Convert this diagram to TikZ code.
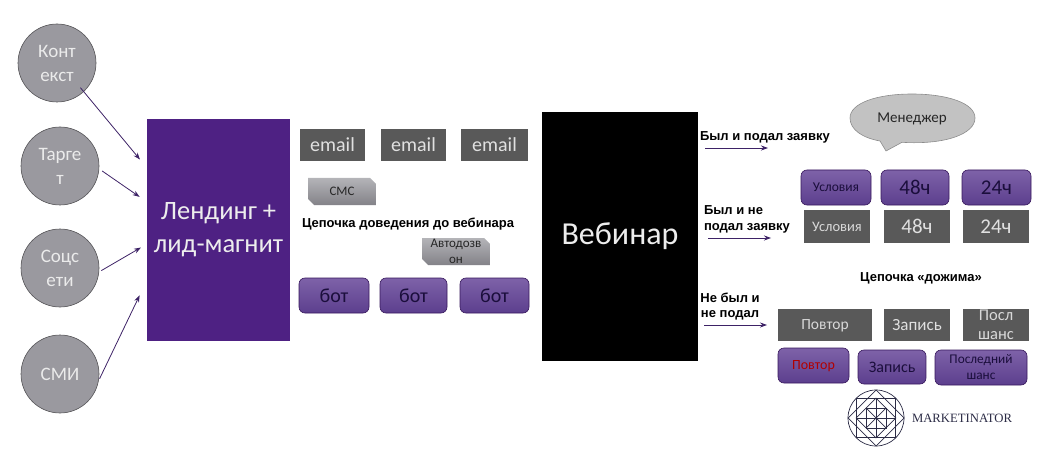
\documentclass[tikz,border=0pt]{standalone}
\usepackage{fontspec}
\setmainfont{Carlito}
\newfontfamily\labelfont{Liberation Sans}
\newfontfamily\logofont{Liberation Serif}
\usetikzlibrary{arrows.meta,calc}
\definecolor{deepviolet}{HTML}{4E2183}
\definecolor{boxgray}{HTML}{595959}
\definecolor{circlegray}{HTML}{9A999F}
\definecolor{arrowviolet}{HTML}{3D2266}
\definecolor{logoink}{HTML}{2B2B45}
\newcommand{\bx}[6]{\node[#1,minimum width=#4-#3,minimum height=#6-#5] (#2) at ({(#3+#4)/2},{(#5+#6)/2})}
\newcommand{\snip}[6]{%
  \shade[top color=snipA,bottom color=snipB] (#2,#4) -- (#3-6,#4) -- (#3,#4+6) -- (#3,#5) -- (#2+6,#5) -- (#2,#5-6) -- cycle;
  \node[snipnode] (#1) at ({(#2+#3)/2},{(#4+#5)/2}) {#6};}
\definecolor{snipA}{HTML}{B4B4B8}
\definecolor{snipB}{HTML}{838288}
\tikzset{
  x=1pt,y=-1pt,
  every node/.style={inner sep=0pt,outer sep=0pt,align=center},
  source/.style={circle,draw=black!45!circlegray,line width=.6pt,fill=circlegray,minimum size=78pt,text=white!92!black,font=\fontsize{19}{24}\selectfont},
  email/.style={rectangle,fill=boxgray,text=white!88!black,font=\fontsize{20}{22}\selectfont},
  grayS/.style={rectangle,fill=boxgray,text=white!85!black,font=\fontsize{14.5}{20}\selectfont},
  grayL/.style={rectangle,fill=boxgray,text=white!88!black,font=\fontsize{21}{22}\selectfont},
  bot/.style={rectangle,rounded corners=6pt,draw=black!30!deepviolet,line width=.6pt,top color=violetA,bottom color=violetB,text=darkink,font=\fontsize{20}{22}\selectfont},
  snipnode/.style={text=black!85,font=\fontsize{13}{16.5}\selectfont},
  bold/.style={font=\labelfont\bfseries\fontsize{13}{15.8}\selectfont,text=black},
  arr/.style={draw=arrowviolet,line width=.8pt,-{Stealth[length=7pt,width=5pt]}},
  logo/.style={draw=logoink,line width=.7pt},
}
\definecolor{violetA}{HTML}{7E62A8}
\definecolor{violetB}{HTML}{5C3F8E}
\definecolor{darkink}{HTML}{1B0E3C}
\begin{document}
\begin{tikzpicture}
\useasboundingbox (0,0) rectangle (1038,465);
% sources
\node[source] (ctx) at (57,63) {Конт\\екст};
\node[source] (tgt) at (60,166) {Тарге\\т};
\node[source] (soc) at (60,268) {Соцс\\ети};
\node[source] (smi) at (60,374) {СМИ};
% landing
\bx{rectangle,fill=deepviolet,text=white!93!black,font=\fontsize{26.5}{33}\selectfont}{land}{147}{290}{119}{341} {Лендинг +\\лид-магнит};
\coordinate (l1) at (147,168);
\coordinate (l2) at (147,202);
\coordinate (l3) at (147,244);
\coordinate (l4) at (147,280);
\draw[arr,shorten <=-5pt,shorten >=11pt] (ctx.-47) -- (l1);
\draw[arr,shorten <=4pt,shorten >=9pt] (tgt.-4) -- (l2);
\draw[arr,shorten <=3pt,shorten >=7pt] (soc.-6) -- (l3);
\draw[arr,shorten <=3pt,shorten >=17pt] (smi.-11) -- (l4);
% chain 1
\bx{email}{e1}{300}{365}{129}{161} {email};
\bx{email}{e2}{381}{446}{129}{161} {email};
\bx{email}{e3}{461}{528}{129}{161} {email};
\snip{sms}{308}{376}{178}{205}{СМС}
\node[bold] (chain1) at (408,224) {Цепочка доведения до вебинара};
\snip{call}{422}{490}{238}{265}{Автодозв\\он}
\bx{bot}{b1}{299}{369}{278}{313} {бот};
\bx{bot}{b2}{380}{447}{278}{313} {бот};
\bx{bot}{b3}{460}{529}{278}{313} {бот};
% webinar
\bx{rectangle,fill=black,text=white!93!black,font=\fontsize{32}{36}\selectfont}{web}{542}{698}{112}{361} {Вебинар};
% outcomes
\node[bold,anchor=west] (o1) at (700,137) {Был и подал заявку};
\coordinate (o1a) at (705,148); \coordinate (o1b) at (768,148);
\draw[arr] (o1a) -- (o1b);
\node[bold,anchor=west,align=left] (o2) at (704,219) {Был и не\\подал заявку};
\coordinate (o2a) at (708,238); \coordinate (o2b) at (771,238);
\draw[arr] (o2a) -- (o2b);
\node[bold] (o3) at (730,306.5) {Не был и\\не подал};
\coordinate (o3a) at (704,325); \coordinate (o3b) at (767,325);
\draw[arr] (o3a) -- (o3b);
% manager
\path[fill=black!24,draw=black!45,line width=.6pt] (880,141) -- (886,151) -- (902,142.3)
  .. controls (945,145) and (975,134) .. (975,118)
  .. controls (975,103) and (947,94) .. (912,94)
  .. controls (877,94) and (850,103) .. (850,118)
  .. controls (850,130) and (863,138) .. (880,141) -- cycle;
\node[text=black!85,font=\fontsize{15}{18}\selectfont] (mgr) at (912,119) {Менеджер};
% row purple
\bx{bot,font=\fontsize{13.5}{18}\selectfont}{u1}{801}{871}{170}{205} {Условия};
\bx{bot,font=\fontsize{21}{22}\selectfont}{u2}{881}{949}{170}{205} {48ч};
\bx{bot,font=\fontsize{21}{22}\selectfont}{u3}{962}{1031}{170}{205} {24ч};
% row gray
\bx{grayS}{g1}{804}{870}{210}{243} {Условия};
\bx{grayL}{g2}{884}{950}{210}{243} {48ч};
\bx{grayL}{g3}{963}{1029}{210}{243} {24ч};
\node[bold] (chain2) at (921,278) {Цепочка «дожима»};
% row gray 2
\bx{grayS,font=\fontsize{15.5}{20}\selectfont}{p1}{778}{872}{309}{341} {\raisebox{-4.5pt}[0pt][0pt]{Повтор}};
\bx{grayL,font=\fontsize{17}{20}\selectfont}{p2}{884}{950}{309}{341} {Запись};
\bx{grayS,font=\fontsize{16.5}{19.5}\selectfont}{p3}{963}{1029}{309}{341} {Посл\\шанс};
% row purple 2
\bx{bot,text=red!70!black,font=\fontsize{14}{16}\selectfont}{r1}{778}{849}{348}{383} {\raisebox{-4pt}[0pt][0pt]{Повтор}};
\bx{bot,font=\fontsize{16}{18}\selectfont}{r2}{858}{926}{350}{384} {Запись};
\bx{bot,font=\fontsize{13.3}{16}\selectfont}{r3}{935}{1027}{350}{385} {Последний\\шанс};
% logo
\begin{scope}[shift={(876,418)}]
\draw[logo] (0,0) circle (28);
\draw[logo] (-28,0) -- (0,-28) -- (28,0) -- (0,28) -- cycle;
\draw[logo] (-19.8,-19.8) rectangle (19.8,19.8);
\draw[logo] (-19.8,0) -- (0,-19.8) -- (19.8,0) -- (0,19.8) -- cycle;
\draw[logo] (-19.8,0) -- (19.8,0) (0,-19.8) -- (0,19.8);
\draw[logo] (-10,-10) rectangle (10,10);
\draw[logo] (-10,-10) -- (10,10) (-10,10) -- (10,-10);
\end{scope}
\node[anchor=west,text=logoink,font=\logofont\fontsize{12.7}{16}\selectfont] (brand) at (912,418) {MARKETINATOR};
\end{tikzpicture}
\end{document}
